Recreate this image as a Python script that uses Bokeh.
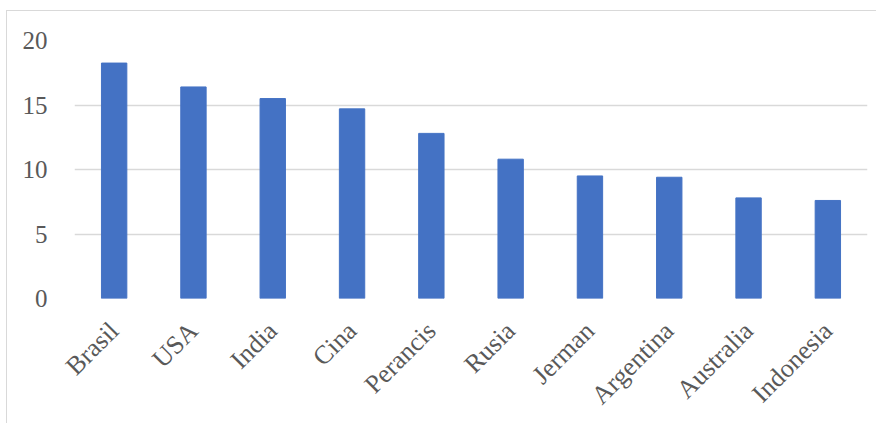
import math
from bokeh.plotting import figure
from bokeh.models import FactorRange, Range1d, FixedTicker, ColumnDataSource
from bokeh.embed import file_html
from bokeh.resources import INLINE

countries = ["Brasil", "USA", "India", "Cina", "Perancis", "Rusia",
             "Jerman", "Argentina", "Australia", "Indonesia"]
values = [18.25, 16.4, 15.5, 14.7, 12.8, 10.8, 9.5, 9.4, 7.8, 7.6]
y_ticks = [0, 5, 10, 15, 20]

source = ColumnDataSource(data=dict(country=countries, value=values))

p = figure(
    x_range=FactorRange(*countries),
    y_range=Range1d(0, 20),
    frame_width=793, frame_height=258,
    min_border_left=67, min_border_right=9,
    min_border_top=29, min_border_bottom=118,
    output_backend="svg", toolbar_location=None,
    background_fill_color="white", border_fill_color="white",
)
p.styles = {"margin-left": "6px", "margin-top": "10px",
            "border-top": "1.5px solid #d9d9d9",
            "border-left": "1.5px solid #d9d9d9"}
p.outline_line_color = None

p.vbar(x="country", top="value", width=0.32, source=source,
       fill_color="#4472C4", line_color="#4472C4")

p.xgrid.grid_line_color = None
p.ygrid.grid_line_color = "#d9d9d9"
p.ygrid.grid_line_width = 1.7
p.yaxis.ticker = FixedTicker(ticks=y_ticks)

for ax in (p.xaxis, p.yaxis):
    ax.axis_line_color = None
    ax.major_tick_line_color = None
    ax.minor_tick_line_color = None
    ax.major_label_text_font = "Liberation Serif"
    ax.major_label_text_color = "#595959"

p.yaxis.major_label_text_font_size = "25px"
p.yaxis.major_label_standoff = 21
p.xaxis.major_label_text_font_size = "26px"
p.xaxis.major_label_orientation = math.pi / 4
p.xaxis.major_label_standoff = 22

open("out.html", "w").write(file_html(p, INLINE))
